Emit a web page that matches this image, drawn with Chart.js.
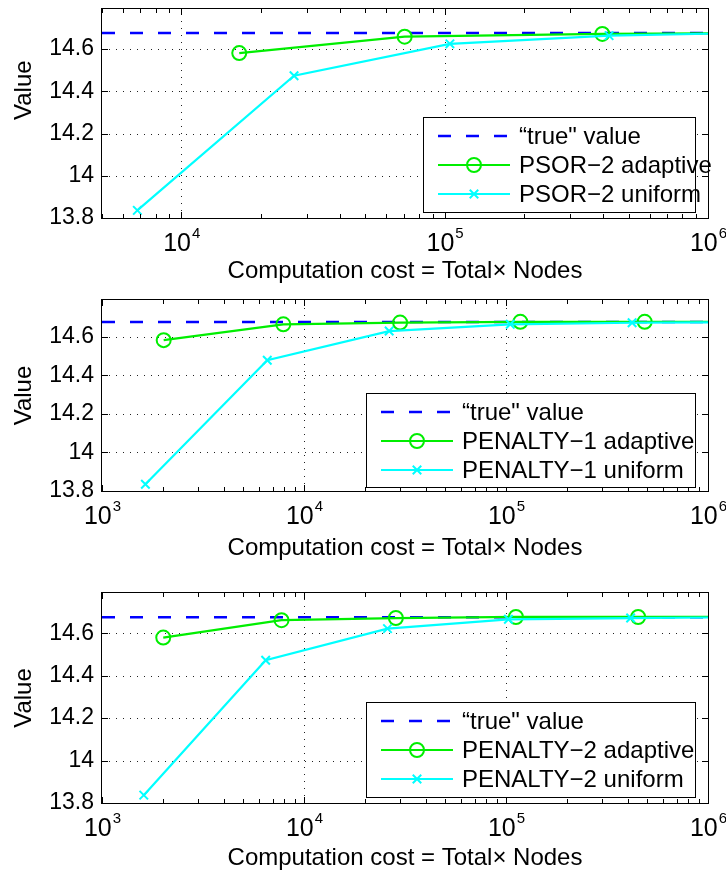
<!DOCTYPE html>
<html>
<head>
<meta charset="utf-8">
<title>Value vs computation cost</title>
<script src="https://cdn.jsdelivr.net/npm/chart.js@4.4.1/dist/chart.umd.min.js"></script>
<style>
    html, body { margin: 0; padding: 0; background: #fff; }
    body { width: 726px; height: 872px; position: relative; overflow: hidden; }
    .panel { position: absolute; left: 0; width: 726px; }
    .panel canvas { display: block; }
</style>
</head>
<body>
<div class="panel" style="top:0px;height:290px"><canvas id="psorChart" width="726" height="290"></canvas></div>
<div class="panel" style="top:290px;height:290px"><canvas id="penalty1Chart" width="726" height="290"></canvas></div>
<div class="panel" style="top:580px;height:292px"><canvas id="penalty2Chart" width="726" height="292"></canvas></div>
<script>
// Values
const trueValue = 14.676;
const yTicks = [13.8, 14, 14.2, 14.4, 14.6];
const xTickExpsPsor = [4, 5, 6];
const xTickExpsPenalty = [3, 4, 5, 6];

const psorLabels = ['\u201Ctrue" value', 'PSOR\u22122 adaptive', 'PSOR\u22122 uniform'];
const psorAdaptiveX = [16600, 70500, 397000, 1900000];
const psorAdaptiveY = [14.581, 14.659, 14.672, 14.677];
const psorUniformX = [6810, 26800, 104700, 421000, 1680000];
const psorUniformY = [13.836, 14.474, 14.625, 14.664, 14.678];

const penalty1Labels = ['\u201Ctrue" value', 'PENALTY\u22121 adaptive', 'PENALTY\u22121 uniform'];
const penalty1AdaptiveX = [2020, 7900, 29900, 117800, 486000, 1950000];
const penalty1AdaptiveY = [14.582, 14.664, 14.673, 14.677, 14.677, 14.677];
const penalty1UniformX = [1640, 6580, 26400, 105000, 421000, 1680000];
const penalty1UniformY = [13.835, 14.478, 14.629, 14.664, 14.672, 14.676];

const penalty2Labels = ['\u201Ctrue" value', 'PENALTY\u22122 adaptive', 'PENALTY\u22122 uniform'];
const penalty2AdaptiveX = [2010, 7740, 28500, 112000, 451000, 1800000];
const penalty2AdaptiveY = [14.58, 14.662, 14.672, 14.677, 14.677, 14.677];
const penalty2UniformX = [1610, 6460, 25900, 102800, 414000, 1650000];
const penalty2UniformY = [13.837, 14.473, 14.622, 14.666, 14.672, 14.676];

const FONT = '"Liberation Sans", Arial, Helvetica, sans-serif';
const TICK_SIZE = 23;
const TEXT_SIZE = 24;
const LEGEND_ROWS = [19, 48, 77];

function toPoints(xs, ys) {
    return xs.map((x, i) => ({ x: x, y: ys[i] }));
}

// MATLAB-like frame, dotted grid, inward ticks, 10^n labels and legend box
const matlabAxes = {
    id: 'matlabAxes',
    beforeDatasetsDraw(chart, args, opts) {
        const ctx = chart.ctx, a = chart.chartArea;
        const x = chart.scales.x, y = chart.scales.y;
        ctx.save();
        ctx.strokeStyle = '#222';
        ctx.lineWidth = 1;
        ctx.setLineDash([1, 6]);
        opts.xExps.forEach(e => {
            const px = Math.round(x.getPixelForValue(Math.pow(10, e))) + 0.5;
            if (px <= a.left + 2 || px >= a.right - 2) return;
            ctx.beginPath();
            ctx.moveTo(px, a.bottom);
            ctx.lineTo(px, a.top);
            ctx.stroke();
        });
        yTicks.forEach(v => {
            const py = Math.round(y.getPixelForValue(v)) + 0.5;
            if (py >= a.bottom - 2 || py <= a.top + 2) return;
            ctx.beginPath();
            ctx.moveTo(a.left, py);
            ctx.lineTo(a.right, py);
            ctx.stroke();
        });
        ctx.restore();
    },
    afterDatasetsDraw(chart, args, opts) {
        const ctx = chart.ctx, a = chart.chartArea;
        const x = chart.scales.x, y = chart.scales.y;
        ctx.save();
        ctx.setLineDash([]);
        ctx.strokeStyle = '#000';
        ctx.lineWidth = 1;

        // inward tick marks
        const lo = Math.floor(Math.log10(x.min)), hi = Math.ceil(Math.log10(x.max));
        for (let e = lo; e <= hi; e++) {
            for (let k = 1; k <= 9; k++) {
                const v = k * Math.pow(10, e);
                if (v < x.min || v > x.max) continue;
                const px = Math.round(x.getPixelForValue(v)) + 0.5;
                const len = k === 1 ? 6 : 4;
                ctx.beginPath();
                ctx.moveTo(px, a.bottom); ctx.lineTo(px, a.bottom - len);
                ctx.moveTo(px, a.top); ctx.lineTo(px, a.top + len);
                ctx.stroke();
            }
        }
        yTicks.forEach(v => {
            const py = Math.round(y.getPixelForValue(v)) + 0.5;
            ctx.beginPath();
            ctx.moveTo(a.left, py); ctx.lineTo(a.left + 6, py);
            ctx.moveTo(a.right, py); ctx.lineTo(a.right - 6, py);
            ctx.stroke();
        });

        // frame
        ctx.strokeRect(a.left - 0.5, a.top - 0.5, a.right - a.left + 1, a.bottom - a.top + 1);

        // x tick labels as 10 with a raised exponent
        ctx.fillStyle = '#000';
        ctx.textBaseline = 'middle';
        ctx.textAlign = 'left';
        opts.xExps.forEach(e => {
            const px = x.getPixelForValue(Math.pow(10, e));
            ctx.font = '25px ' + FONT;
            const wBase = ctx.measureText('10').width;
            ctx.font = '15px ' + FONT;
            const wExp = ctx.measureText(String(e)).width;
            const start = px - (wBase + wExp) / 2;
            const ly = a.bottom + 26;
            ctx.font = '25px ' + FONT;
            ctx.fillText('10', start, ly);
            ctx.font = '15px ' + FONT;
            ctx.fillText(String(e), start + wBase + 1, ly - 10);
        });

        // legend
        const lg = opts.legend;
        const left = Math.round(a.right - lg.right - lg.width);
        const top = Math.round(a.bottom - lg.bottom - lg.height);
        ctx.fillStyle = '#fff';
        ctx.fillRect(left, top, lg.width, lg.height);
        ctx.strokeStyle = '#000';
        ctx.lineWidth = 1;
        ctx.strokeRect(left + 0.5, top + 0.5, lg.width, lg.height);

        chart.data.datasets.forEach((ds, i) => {
            const ry = top + LEGEND_ROWS[i];
            ctx.strokeStyle = ds.borderColor;
            ctx.lineWidth = ds.borderWidth;
            ctx.setLineDash(ds.borderDash || []);
            ctx.beginPath();
            ctx.moveTo(left + 15, ry);
            ctx.lineTo(left + 87, ry);
            ctx.stroke();
            ctx.setLineDash([]);
            if (ds.pointRadius > 0) {
                ctx.fillStyle = 'rgba(0,0,0,0)';
                ctx.lineWidth = ds.pointBorderWidth;
                Chart.helpers.drawPoint(ctx, {
                    pointStyle: ds.pointStyle,
                    radius: ds.pointRadius,
                    borderWidth: ds.pointBorderWidth,
                    rotation: 0
                }, left + 51, ry);
            }
            ctx.fillStyle = '#000';
            ctx.font = TEXT_SIZE + 'px ' + FONT;
            ctx.textAlign = 'left';
            ctx.textBaseline = 'middle';
            ctx.fillText(ds.label, left + 96, ry + 1);
        });
        ctx.restore();
    }
};

function buildChart(canvasId, labels, adaptive, uniform, layout) {
    const trueLine = toPoints([layout.xMin, 1e6], [trueValue, trueValue]);
    return new Chart(document.getElementById(canvasId), {
        type: 'scatter',
        data: {
            datasets: [{
                label: labels[0],
                data: trueLine,
                showLine: true,
                borderColor: '#0000ff',
                borderWidth: 2.5,
                borderDash: [13, 15],
                pointRadius: 0,
                clip: 0,
                order: 3
            }, {
                label: labels[1],
                data: adaptive,
                showLine: true,
                borderColor: '#00ee00',
                borderWidth: 2.2,
                pointStyle: 'circle',
                pointRadius: 7,
                pointBorderWidth: 2,
                pointBackgroundColor: 'rgba(0,0,0,0)',
                clip: 0,
                order: 2
            }, {
                label: labels[2],
                data: uniform,
                showLine: true,
                borderColor: '#00ffff',
                borderWidth: 2.2,
                pointStyle: 'crossRot',
                pointRadius: 6,
                pointBorderWidth: 2,
                clip: 0,
                order: 1
            }]
        },
        options: {
            responsive: false,
            animation: false,
            devicePixelRatio: 1,
            layout: { padding: { left: 0, right: 18, top: layout.top, bottom: 0 } },
            elements: { line: { tension: 0 } },
            plugins: {
                legend: { display: false },
                tooltip: { enabled: false },
                matlabAxes: { xExps: layout.xExps, legend: layout.legend }
            },
            scales: {
                x: {
                    type: 'logarithmic',
                    min: layout.xMin,
                    max: 1e6,
                    afterFit: s => {
                        s.height = layout.axisHeight;
                        s.paddingLeft = 0; s.paddingRight = 0;
                    },
                    grid: { display: false, drawTicks: false },
                    border: { display: false },
                    ticks: { display: false },
                    title: {
                        display: true,
                        text: 'Computation cost = Total\u00D7 Nodes',
                        color: '#000',
                        font: { size: TEXT_SIZE },
                        padding: { top: 0, bottom: layout.axisHeight - layout.titleOffset - TEXT_SIZE * 0.6 }
                    }
                },
                y: {
                    type: 'linear',
                    min: 13.8,
                    max: 14.79,
                    afterBuildTicks: s => { s.ticks = yTicks.map(v => ({ value: v })); },
                    afterFit: s => {
                        s.width = 102;
                        s.paddingTop = 0; s.paddingBottom = 0;
                    },
                    grid: { display: false, drawTicks: false },
                    border: { display: false },
                    ticks: {
                        padding: 8,
                        color: '#000',
                        font: { size: TICK_SIZE },
                        callback: v => String(Math.round(v * 10) / 10)
                    },
                    title: {
                        display: true,
                        // leading spaces lift the label the way the top panel has it
                        text: ' '.repeat(layout.yTitleLead) + 'Value',
                        color: '#000',
                        font: { size: TEXT_SIZE },
                        padding: { top: 10, bottom: 0 }
                    }
                }
            }
        },
        plugins: [matlabAxes]
    });
}

document.addEventListener('DOMContentLoaded', function() {
    Chart.defaults.font.family = FONT;
    Chart.defaults.color = '#000';

    // PSOR-2
    buildChart('psorChart', psorLabels,
        toPoints(psorAdaptiveX, psorAdaptiveY),
        toPoints(psorUniformX, psorUniformY),
        { xMin: 5000, xExps: xTickExpsPsor, top: 8, axisHeight: 72, titleOffset: 53.5, yTitleLead: 7,
          legend: { width: 272, height: 95, right: 13, bottom: 6 } });

    // PENALTY-1
    buildChart('penalty1Chart', penalty1Labels,
        toPoints(penalty1AdaptiveX, penalty1AdaptiveY),
        toPoints(penalty1UniformX, penalty1UniformY),
        { xMin: 1000, xExps: xTickExpsPenalty, top: 10, axisHeight: 89, titleOffset: 57, yTitleLead: 0,
          legend: { width: 329, height: 94, right: 13, bottom: 4 } });

    // PENALTY-2
    buildChart('penalty2Chart', penalty2Labels,
        toPoints(penalty2AdaptiveX, penalty2AdaptiveY),
        toPoints(penalty2UniformX, penalty2UniformY),
        { xMin: 1000, xExps: xTickExpsPenalty, top: 13, axisHeight: 69, titleOffset: 55, yTitleLead: 0,
          legend: { width: 329, height: 95, right: 13, bottom: 6 } });
});
</script>
</body>
</html>
